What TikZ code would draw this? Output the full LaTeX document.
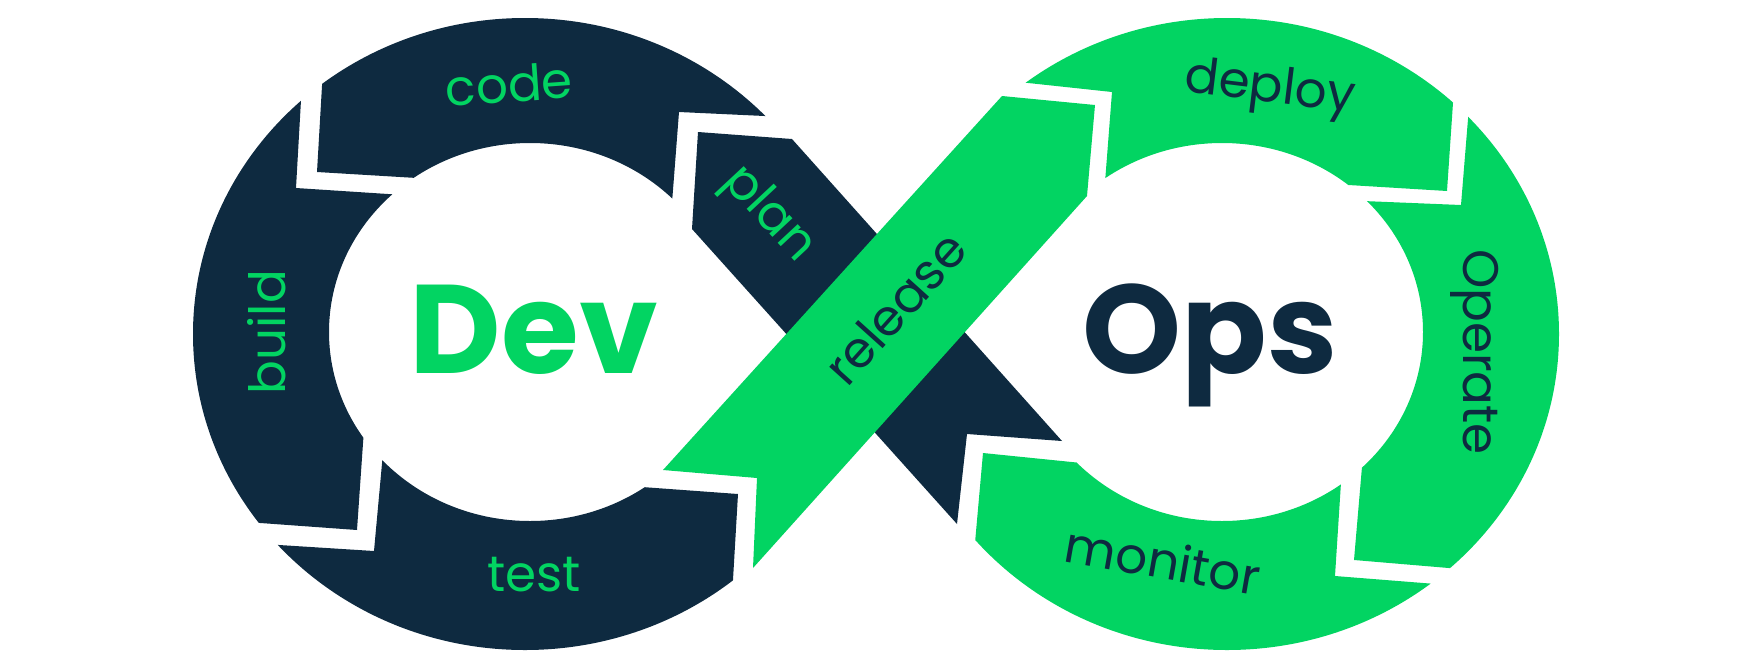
\documentclass[tikz,border=0pt]{standalone}
\usepackage{fontspec}
\setmainfont{Poppins}

\definecolor{devnavy}{HTML}{0E2A40}
\definecolor{opsgreen}{HTML}{02D462}

% the two loops: outer ellipse minus hole
\newcommand\devring{(525,334) ellipse [x radius=166pt, y radius=158pt] (530,332) ellipse [x radius=100.5pt, y radius=94.5pt]}
\newcommand\opsring{(1227,334) ellipse [x radius=166pt, y radius=158pt] (1222,332) ellipse [x radius=100.5pt, y radius=94.5pt]}

\tikzset{
  stage/.style={font=\fontsize{25}{25}\selectfont, inner sep=0pt},
  big/.style={font=\fontsize{63}{63}\selectfont\bfseries, inner sep=0pt}
}

\begin{document}
\begin{tikzpicture}[x=0.5pt,y=-0.5pt]
\useasboundingbox (0,0) rectangle (1741,660);

% Dev loop
\begin{scope}
  \clip (150,0) -- (306.7,0) -- (296,188) -- (480,200) -- (480,400) -- (366,400) -- (357,530) -- (150,515) -- cycle;
  \fill[devnavy,even odd rule] \devring;
\end{scope}
\begin{scope}
  \clip (327,0) -- (317,172) -- (500,183) -- (667.6,260) -- (679,112) -- (850,120) -- (850,0) -- cycle;
  \fill[devnavy,even odd rule] \devring;
\end{scope}
\begin{scope}
  \clip (200,540) -- (374,551) -- (386,420) -- (642,487) -- (738,494) -- (726,700) -- (200,700) -- cycle;
  \fill[devnavy,even odd rule] \devring;
\end{scope}
\fill[devnavy] (698,132) -- (792,139) -- (1062,441) -- (967,434) -- (957,524) -- (692,229) -- cycle;

% Ops loop
\begin{scope}
  \clip (950,0) -- (950,74.6) -- (1112,92) -- (1099,260) -- (1250,179) -- (1447,191) -- (1460,0) -- cycle;
  \fill[opsgreen,even odd rule] \opsring;
\end{scope}
\begin{scope}
  \clip (1477.7,0) -- (1461,205) -- (1280,197.6) -- (1280,420) -- (1366,420) -- (1354,560) -- (1650,585) -- (1650,0) -- cycle;
  \fill[opsgreen,even odd rule] \opsring;
\end{scope}
\begin{scope}
  \clip (961,700) -- (983,453) -- (1200,475) -- (1345,420) -- (1335,576) -- (1600,597) -- (1600,700) -- cycle;
  \fill[opsgreen,even odd rule] \opsring;
\end{scope}
\fill[opsgreen] (663,470) -- (757,478) -- (753,568) -- (1087,196) -- (1095,105) -- (1002,96) -- cycle;

% stage labels
\node[stage,opsgreen,rotate=4] (code) at (509,84) {code};
\node[stage,opsgreen,rotate=90] (build) at (267,332) {build};
\node[stage,opsgreen] (test) at (534,575) {test};
\node[stage,opsgreen,rotate=-47] (plan) at (768,215) {plan};
\node[stage,devnavy,rotate=48] (release) at (895,308) {release};
\node[stage,devnavy,rotate=-7] (deploy) at (1270,90) {deploy};
\node[stage,devnavy,rotate=-90] (operate) at (1475,352) {Operate};
\node[stage,devnavy,rotate=-10] (monitor) at (1163,560) {monitor};

\node[big,opsgreen,anchor=base] (dev) at (534,373) {Dev};
\node[big,devnavy,anchor=base] (ops) at (1210,373) {Ops};
\end{tikzpicture}
\end{document}
